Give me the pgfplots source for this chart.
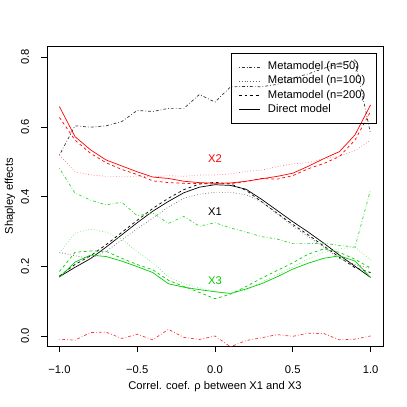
\documentclass[border=0pt]{standalone}
\usepackage{fontspec}
\setmainfont{Liberation Sans}
\usepackage{pgfplots}
\usepackage{pgfplotstable}
\pgfplotsset{compat=1.18}

\definecolor{rgreen}{RGB}{0,205,0}

% Shapley effects of X1, X2, X3 against rho
% columns: direct model, metamodel n=200, n=100, n=50
\pgfplotstableread{
rho   direct n200  n100  n50
-1.0  0.170  0.172 0.240 0.519
-0.9  0.197  0.205 0.230 0.603
-0.8  0.222  0.230 0.222 0.599
-0.7  0.255  0.262 0.243 0.603
-0.6  0.290  0.297 0.275 0.615
-0.5  0.325  0.332 0.308 0.647
-0.4  0.358  0.366 0.338 0.644
-0.3  0.386  0.395 0.370 0.653
-0.2  0.411  0.420 0.395 0.653
-0.1  0.427  0.436 0.407 0.693
 0.0  0.434  0.441 0.412 0.671
 0.1  0.432  0.436 0.412 0.715
 0.2  0.421  0.418 0.405 0.716
 0.3  0.392  0.385 0.385 0.715
 0.4  0.360  0.352 0.350 0.722
 0.5  0.328  0.320 0.315 0.740
 0.6  0.298  0.290 0.285 0.752
 0.7  0.266  0.258 0.255 0.768
 0.8  0.232  0.226 0.222 0.783
 0.9  0.200  0.196 0.205 0.792
 1.0  0.168  0.182 0.194 0.580
}\xone

\pgfplotstableread{
rho   direct n200  n100  n50
-1.0  0.658  0.627 0.519 -0.009
-0.9  0.572  0.562 0.471 -0.012
-0.8  0.534  0.524 0.462  0.010
-0.7  0.505  0.497 0.458  0.011
-0.6  0.488  0.478 0.458 -0.007
-0.5  0.471  0.463 0.458  0.005
-0.4  0.456  0.445 0.457 -0.011
-0.3  0.452  0.440 0.460  0.019
-0.2  0.444  0.438 0.458 -0.004
-0.1  0.440  0.437 0.462 -0.010
 0.0  0.438  0.436 0.462  0.000
 0.1  0.439  0.437 0.465 -0.031
 0.2  0.444  0.443 0.472 -0.013
 0.3  0.451  0.452 0.476 -0.005
 0.4  0.458  0.450 0.486  0.004
 0.5  0.467  0.460 0.494 -0.001
 0.6  0.487  0.480 0.498  0.008
 0.7  0.509  0.495 0.508  0.007
 0.8  0.529  0.515 0.516 -0.011
 0.9  0.577  0.562 0.532 -0.009
 1.0  0.663  0.644 0.562  0.000
}\xtwo

\pgfplotstableread{
rho   direct n200  n100  n50
-1.0  0.168  0.185 0.238 0.481
-0.9  0.212  0.240 0.295 0.410
-0.8  0.232  0.244 0.307 0.390
-0.7  0.228  0.243 0.298 0.376
-0.6  0.215  0.223 0.278 0.384
-0.5  0.199  0.205 0.242 0.345
-0.4  0.182  0.190 0.210 0.353
-0.3  0.150  0.160 0.170 0.323
-0.2  0.140  0.142 0.150 0.343
-0.1  0.133  0.125 0.138 0.315
 0.0  0.127  0.107 0.128 0.325
 0.1  0.122  0.120 0.122 0.310
 0.2  0.135  0.142 0.132 0.298
 0.3  0.150  0.166 0.155 0.285
 0.4  0.170  0.188 0.176 0.278
 0.5  0.192  0.210 0.198 0.265
 0.6  0.209  0.235 0.222 0.265
 0.7  0.223  0.250 0.240 0.266
 0.8  0.230  0.240 0.250 0.260
 0.9  0.215  0.220 0.255 0.255
 1.0  0.168  0.195 0.218 0.420
}\xthree

\tikzset{
  rdotted/.style={dash pattern=on 0.7pt off 2.1pt},
  rdashed/.style={dash pattern=on 2.8pt off 2.8pt},
  rdotdash/.style={dash pattern=on 0.7pt off 2.1pt on 2.8pt off 2.1pt},
}

\begin{document}
\fontsize{11.2}{13.4}\selectfont
\begin{tikzpicture}
\useasboundingbox (-47pt,-61pt) rectangle (360pt,346pt);
\begin{axis}[
  at={(0pt,0pt)}, anchor=south west,
  scale only axis, width=336pt, height=300pt,
  xmin=-1.08, xmax=1.08, ymin=-0.0287, ymax=0.832,
  axis line style={line width=0.6pt},
  tick style={black, line width=0.6pt},
  tick align=outside, major tick length=5.5pt,
  xtick pos=bottom, ytick pos=left,
  xtick={-1,-0.5,0,0.5,1}, xticklabels={−1.0,−0.5,0.0,0.5,1.0},
  ytick={0,0.2,0.4,0.6,0.8}, yticklabels={0.0,0.2,0.4,0.6,0.8},
  xticklabel style={anchor=center, yshift=-18pt},
  yticklabel style={xshift=-16.5pt, rotate=90, anchor=center},
  every axis x label/.style={at={(axis description cs:0.5,0)}, anchor=center, yshift=-40.5pt},
  every axis y label/.style={at={(axis description cs:0,0.5)}, xshift=-37pt, rotate=90, anchor=center},
  xlabel={Correl. coef. ρ between X1 and X3},
  ylabel={Shapley effects},
  legend image code/.code={\draw[#1] (0pt,0pt) -- (20.7pt,0pt);},
  legend cell align=left,
  legend style={at={(axis description cs:0.547,0.976)}, anchor=north west,
    draw=black, line width=0.6pt, fill=none,
    inner xsep=7.5pt, inner ysep=7pt, row sep=0.8pt, column sep=5pt,
    nodes={inner xsep=3pt, inner ysep=0.7pt, text height=8.5pt, text depth=3.5pt}},
  every axis plot/.append style={line width=0.7pt},
]
\addlegendimage{black!80, rdotdash}
\addlegendentry{Metamodel (n=50)}
\addlegendimage{black!60, rdotted}
\addlegendentry{Metamodel (n=100)}
\addlegendimage{black, rdashed}
\addlegendentry{Metamodel (n=200)}
\addlegendimage{black}
\addlegendentry{Direct model}

% X1
\addplot[black, forget plot] table[x=rho, y=direct] {\xone};
\addplot[black, rdashed, forget plot] table[x=rho, y=n200] {\xone};
\addplot[black!60, rdotted, forget plot] table[x=rho, y=n100] {\xone};
\addplot[black!80, rdotdash, forget plot] table[x=rho, y=n50] {\xone};
% X2
\addplot[red, forget plot] table[x=rho, y=direct] {\xtwo};
\addplot[red, rdashed, forget plot] table[x=rho, y=n200] {\xtwo};
\addplot[red!55, rdotted, forget plot] table[x=rho, y=n100] {\xtwo};
\addplot[red!80, rdotdash, forget plot] table[x=rho, y=n50] {\xtwo};
% X3
\addplot[rgreen, forget plot] table[x=rho, y=direct] {\xthree};
\addplot[rgreen, rdashed, forget plot] table[x=rho, y=n200] {\xthree};
\addplot[rgreen!55, rdotted, forget plot] table[x=rho, y=n100] {\xthree};
\addplot[rgreen!80, rdotdash, forget plot] table[x=rho, y=n50] {\xthree};

\node[red] at (axis cs:0,0.508) {X2};
\node[black] at (axis cs:0,0.357) {X1};
\node[rgreen] at (axis cs:0,0.158) {X3};
\end{axis}
\end{tikzpicture}
\end{document}
